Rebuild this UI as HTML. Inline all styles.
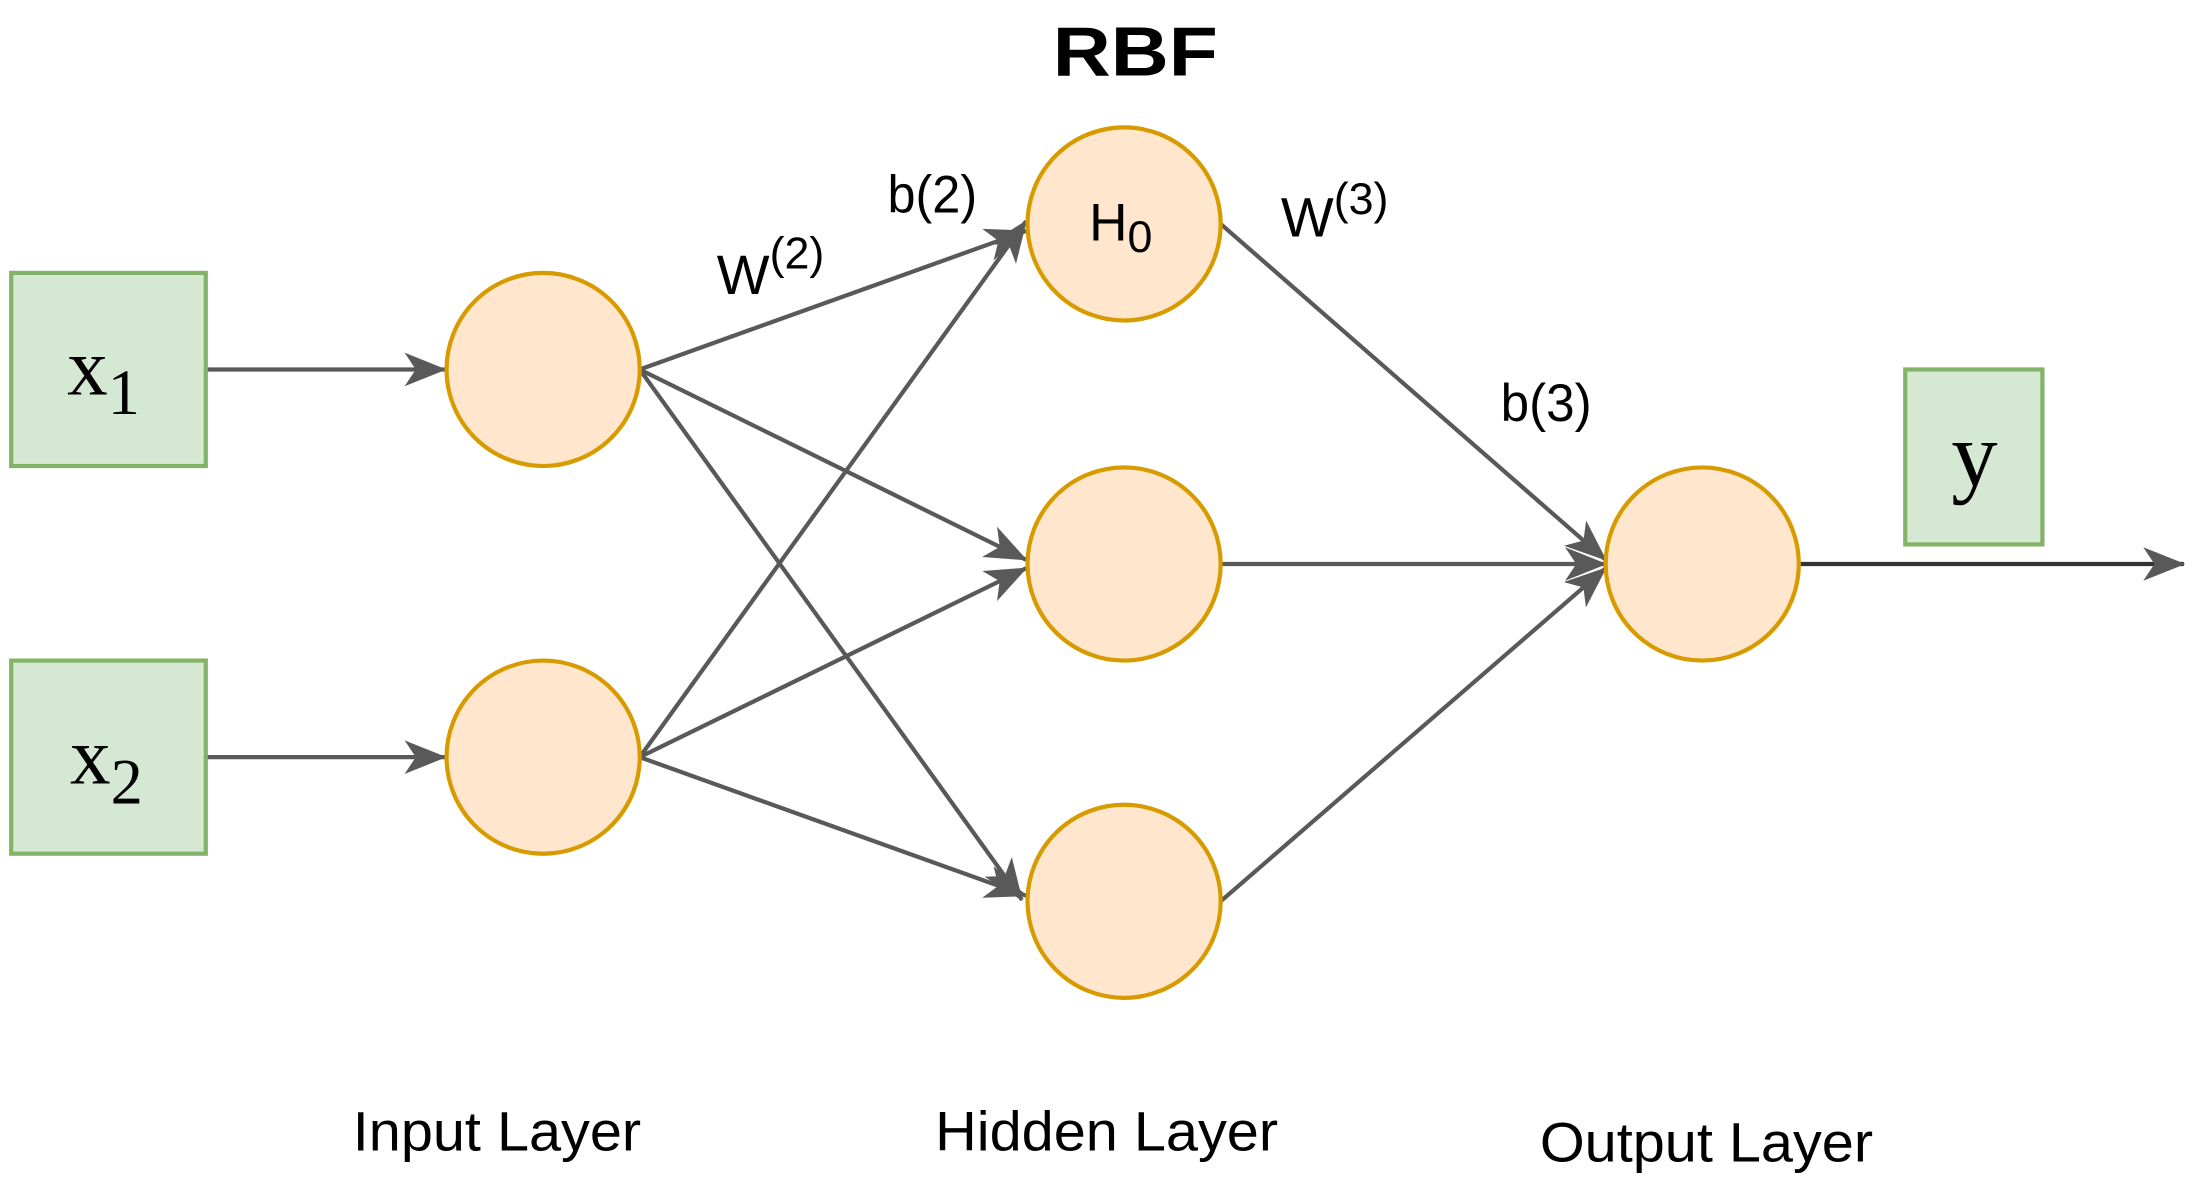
<!DOCTYPE html>
<html><head><style>html,body{margin:0;padding:0;background:#fff;}svg{display:block}</style></head>
<body>
<svg width="2195" height="1191" viewBox="0 0 1568 851" preserveAspectRatio="none" xmlns="http://www.w3.org/2000/svg" font-family="Liberation Sans, sans-serif">
<defs>
<marker id="ah" viewBox="0 0 30 24" refX="29" refY="12" markerWidth="30" markerHeight="24" markerUnits="userSpaceOnUse" orient="auto">
<path d="M0,0 L30,12 L0,24 L8,12 Z" fill="#595959"/>
</marker>
</defs>
<g stroke="#595959" stroke-width="3" fill="none">
<line x1="147" y1="264" x2="318" y2="264" marker-end="url(#ah)"/>
<line x1="147" y1="541" x2="318" y2="541" marker-end="url(#ah)"/>
<line x1="457" y1="264" x2="733" y2="165" marker-end="url(#ah)"/>
<line x1="457" y1="264" x2="733" y2="400" marker-end="url(#ah)"/>
<line x1="457" y1="264" x2="730" y2="643" marker-end="url(#ah)"/>
<line x1="457" y1="541" x2="733" y2="158" marker-end="url(#ah)"/>
<line x1="457" y1="541" x2="733" y2="406" marker-end="url(#ah)"/>
<line x1="457" y1="541" x2="733" y2="640" marker-end="url(#ah)"/>
<line x1="872" y1="160" x2="1147" y2="400" marker-end="url(#ah)"/>
<line x1="872" y1="403" x2="1147" y2="403" marker-end="url(#ah)"/>
<line x1="872" y1="644" x2="1147" y2="406" marker-end="url(#ah)"/>
<line x1="1285" y1="403" x2="1560" y2="403" stroke="#333" marker-end="url(#ah)"/>
</g>
<g fill="#d5e8d4" stroke="#82b366" stroke-width="3">
<rect x="8" y="195" width="139" height="138"/>
<rect x="8" y="472" width="139" height="138"/>
<rect x="1361" y="264" width="98" height="125"/>
</g>
<g fill="#ffe6cc" stroke="#d79b00" stroke-width="3">
<circle cx="388" cy="264" r="69"/>
<circle cx="388" cy="541" r="69"/>
<circle cx="803" cy="160" r="69"/>
<circle cx="803" cy="403" r="69"/>
<circle cx="803" cy="644" r="69"/>
<circle cx="1216" cy="403" r="69"/>
</g>
<g fill="#000">
<text x="752" y="54" font-size="50" font-weight="bold" textLength="118" lengthAdjust="spacingAndGlyphs">RBF</text>
<text x="48" y="282" font-family="Liberation Serif, serif" font-size="58">x<tspan font-size="46" dy="14">1</tspan></text>
<text x="50" y="560" font-family="Liberation Serif, serif" font-size="58">x<tspan font-size="46" dy="14">2</tspan></text>
<text x="1394" y="347" font-family="Liberation Serif, serif" font-size="66">y</text>
<text x="778" y="172" font-size="38">H<tspan font-size="32" dy="8">0</tspan></text>
<text x="512" y="210" font-size="40">W<tspan font-size="32" dy="-18">(2)</tspan></text>
<text x="634" y="152" font-size="38" textLength="64" lengthAdjust="spacingAndGlyphs">b(2)</text>
<text x="915" y="169" font-size="40">W<tspan font-size="32" dy="-16">(3)</tspan></text>
<text x="1072" y="301" font-size="38" textLength="65" lengthAdjust="spacingAndGlyphs">b(3)</text>
<text x="252" y="822" font-size="40" textLength="206" lengthAdjust="spacingAndGlyphs">Input Layer</text>
<text x="668" y="822" font-size="40" textLength="245" lengthAdjust="spacingAndGlyphs">Hidden Layer</text>
<text x="1100" y="830" font-size="40" textLength="238" lengthAdjust="spacingAndGlyphs">Output Layer</text>
</g>
</svg>
</body></html>
